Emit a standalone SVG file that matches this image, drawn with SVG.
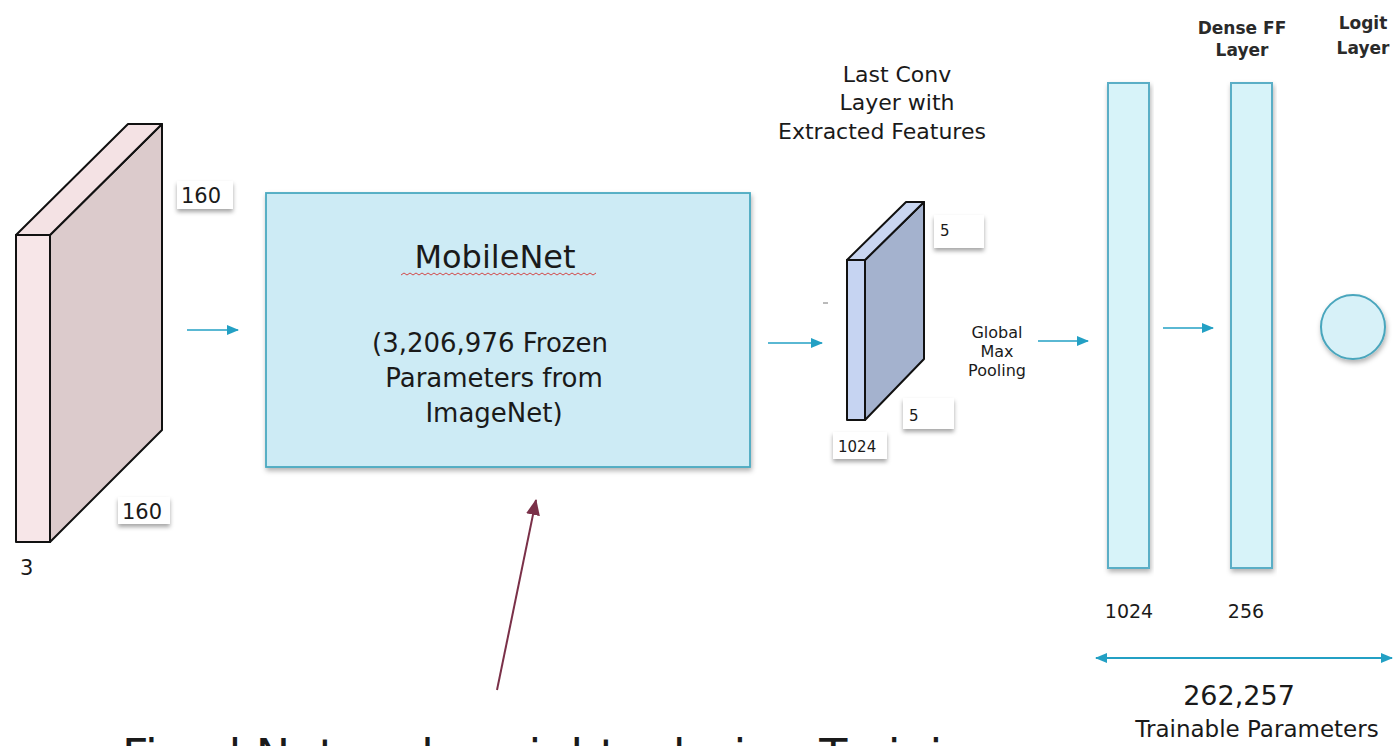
<svg xmlns="http://www.w3.org/2000/svg" width="1394" height="746" viewBox="0 0 1394 746">
  <defs>
    <filter id="shadow" x="-20%" y="-20%" width="140%" height="160%">
      <feDropShadow dx="0" dy="3" stdDeviation="2" flood-color="#000" flood-opacity="0.35"/>
    </filter>
    <filter id="softShadow" x="-10%" y="-10%" width="120%" height="130%">
      <feDropShadow dx="1" dy="3" stdDeviation="2.5" flood-color="#000" flood-opacity="0.3"/>
    </filter>
    <marker id="tealHead" viewBox="0 0 12 10" refX="11" refY="5" markerWidth="12" markerHeight="10" markerUnits="userSpaceOnUse" orient="auto-start-reverse">
      <path d="M0,0 L12,5 L0,10 Z" fill="#23a0c4"/>
    </marker>
    <marker id="maroonHead" viewBox="0 0 16 14" refX="15" refY="7" markerWidth="16" markerHeight="14" markerUnits="userSpaceOnUse" orient="auto">
      <path d="M0,0 L16,7 L0,14 Z" fill="#7a3048"/>
    </marker>
  </defs>
  <style>
    text { font-family: "DejaVu Sans", "Liberation Sans", sans-serif; fill: #1a1a1a; }
    .slab { stroke: #111; stroke-width: 2; stroke-linejoin: round; }
    .dim { fill: #ffffff; filter: url(#shadow); }
    .dimtxt { font-size: 21px; }
    .small { font-size: 15px; }
    .flow { stroke: #23a0c4; stroke-width: 1.6; fill: none; marker-end: url(#tealHead); }
    .dense { fill: #d7f3f9; stroke: #5aaec6; stroke-width: 2; filter: url(#softShadow); }
    .mid { text-anchor: middle; }
    .head { font-size: 17px; font-weight: bold; fill: #2a2a2a; }
  </style>

  <rect width="1394" height="746" fill="#ffffff"/>

  <!-- input volume 160 x 160 x 3 -->
  <g id="input-volume">
    <polygon class="slab" points="50,235 162,124 162,430 50,542" fill="#dccbcc"/>
    <polygon class="slab" points="16,235 128,124 162,124 50,235" fill="#f4e2e4"/>
    <rect class="slab" x="16" y="235" width="34" height="307" fill="#f7e6e8"/>
    <rect class="dim" x="177" y="181" width="56" height="28"/>
    <text class="dimtxt" x="181" y="203">160</text>
    <rect class="dim" x="118" y="497" width="52" height="27"/>
    <text class="dimtxt" x="122" y="519">160</text>
    <text class="dimtxt" x="20" y="575">3</text>
  </g>

  <!-- MobileNet block -->
  <g id="mobilenet">
    <rect x="266" y="193" width="484" height="274" fill="#cdebf5" stroke="#4aa9c0" stroke-width="1.8" filter="url(#softShadow)"/>
    <text class="mid" x="495" y="268" font-size="32">MobileNet</text>
    <path d="M401,275 l3,-2 l3,2 l3,-2 l3,2 l3,-2 l3,2 l3,-2 l3,2 l3,-2 l3,2 l3,-2 l3,2 l3,-2 l3,2 l3,-2 l3,2 l3,-2 l3,2 l3,-2 l3,2 l3,-2 l3,2 l3,-2 l3,2 l3,-2 l3,2 l3,-2 l3,2 l3,-2 l3,2 l3,-2 l3,2 l3,-2 l3,2 l3,-2 l3,2 l3,-2 l3,2 l3,-2 l3,2 l3,-2 l3,2 l3,-2 l3,2 l3,-2 l3,2 l3,-2 l3,2 l3,-2 l3,2 l3,-2 l3,2 l3,-2 l3,2 l3,-2 l3,2 l3,-2 l3,2 l3,-2 l3,2 l3,-2 l3,2 l3,-2 l3,2 l3,-2" fill="none" stroke="#d24a4a" stroke-width="1"/>
    <text class="mid" x="490" y="352" font-size="26">(3,206,976 Frozen</text>
    <text class="mid" x="494" y="387" font-size="26">Parameters from</text>
    <text class="mid" x="494" y="422" font-size="26">ImageNet)</text>
  </g>

  <!-- last convolutional volume 5 x 5 x 1024 -->
  <g id="conv-volume">
    <text class="mid" x="897" y="82" font-size="22">Last Conv</text>
    <text class="mid" x="897" y="110" font-size="22">Layer with</text>
    <text class="mid" x="882" y="139" font-size="22">Extracted Features</text>
    <polygon class="slab" points="865,260 924,202 924,359 865,420" fill="#a4b2ce" stroke-width="1.6"/>
    <polygon class="slab" points="847,260 906,202 924,202 865,260" fill="#c9d6f1" stroke-width="1.6"/>
    <rect class="slab" x="847" y="260" width="18" height="160" fill="#c6d4f2" stroke-width="1.6"/>
    <line x1="823" y1="303" x2="828" y2="303" stroke="#777" stroke-width="1"/>
    <rect class="dim" x="934" y="215" width="50" height="33"/>
    <text class="small" x="940" y="236">5</text>
    <rect class="dim" x="903" y="398" width="51" height="31"/>
    <text class="small" x="909" y="421">5</text>
    <rect class="dim" x="833" y="432" width="54" height="27"/>
    <text class="small" x="838" y="452">1024</text>
  </g>

  <g id="pooling-label">
    <text class="mid" x="997" y="338" font-size="16">Global</text>
    <text class="mid" x="997" y="357" font-size="16">Max</text>
    <text class="mid" x="997" y="376" font-size="16">Pooling</text>
  </g>

  <!-- dense layers -->
  <g id="feature-layer">
    <rect class="dense" x="1108" y="83" width="41" height="485"/>
    <text class="mid" x="1129" y="618" font-size="19">1024</text>
  </g>
  <g id="dense-ff-layer">
    <text class="mid head" x="1242" y="34">Dense FF</text>
    <text class="mid head" x="1242" y="56">Layer</text>
    <rect class="dense" x="1231" y="83" width="41" height="485"/>
    <text class="mid" x="1246" y="618" font-size="19">256</text>
  </g>
  <g id="logit-layer">
    <text class="mid head" x="1363" y="29">Logit</text>
    <text class="mid head" x="1363" y="54">Layer</text>
    <circle cx="1353" cy="327" r="32" fill="#d7f1f8" stroke="#4aa6bd" stroke-width="2" filter="url(#softShadow)"/>
  </g>

  <g id="trainable-label">
    <text class="mid" x="1239" y="705" font-size="27">262,257</text>
    <text class="mid" x="1257" y="737" font-size="23">Trainable Parameters</text>
  </g>

  <g id="note">
    <text x="122" y="772" font-size="46" fill="#000">Fixed Network weights during Training</text>
  </g>

  <!-- connectors -->
  <g id="connectors">
    <line class="flow" x1="187" y1="330" x2="238" y2="330"/>
    <line class="flow" x1="768" y1="343" x2="822" y2="343"/>
    <line class="flow" x1="1038" y1="341" x2="1088" y2="341"/>
    <line class="flow" x1="1163" y1="328" x2="1213" y2="328"/>
    <line x1="1096" y1="658" x2="1392" y2="658" stroke="#23a0c4" stroke-width="1.8" marker-start="url(#tealHead)" marker-end="url(#tealHead)"/>
    <line x1="497" y1="690" x2="536" y2="500" stroke="#7a3048" stroke-width="2" marker-end="url(#maroonHead)"/>
  </g>
</svg>
